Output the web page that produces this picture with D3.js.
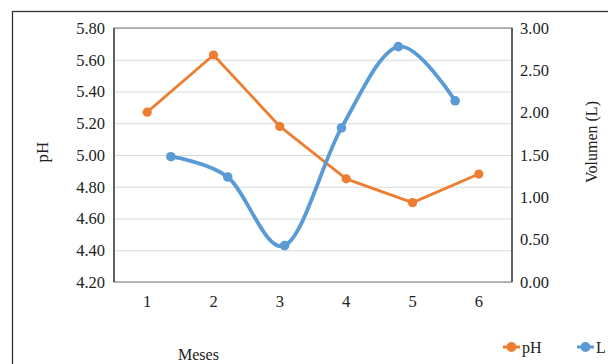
<!DOCTYPE html>
<html>
<head>
<meta charset="utf-8">
<script src="https://cdn.jsdelivr.net/npm/d3@7"></script>
<style>
  body { margin: 0; background: #fff; }
  text { font-family: "Liberation Serif", "Times New Roman", serif; fill: #222; }
</style>
</head>
<body>
<svg id="chart"></svg>
<script>
// data
const months = ['1', '2', '3', '4', '5', '6'];
const phValues = [5.27, 5.63, 5.18, 4.85, 4.70, 4.88];
const volIndex = [1, 2, 3, 4, 5, 6];
const volValues = [1.48, 1.24, 0.43, 1.82, 2.78, 2.14];
const phTicks = [4.2, 4.4, 4.6, 4.8, 5.0, 5.2, 5.4, 5.6, 5.8];
const volTicks = [0, 0.5, 1, 1.5, 2, 2.5, 3];

const W = 608, H = 364;
const margin = {top: 28, right: 96, bottom: 82, left: 114};
const width = W - margin.left - margin.right;
const height = H - margin.top - margin.bottom;
const orange = '#ed7d31', blue = '#5b9bd5';

const svg = d3.select('#chart').attr('width', W).attr('height', H);

// outer frame (cut off right/bottom)
svg.append('rect')
    .attr('x', 12.5).attr('y', 11.5)
    .attr('width', W).attr('height', H)
    .attr('fill', 'none').attr('stroke', '#333').attr('stroke-width', 1.3);

const chart = svg.append('g').attr('transform', `translate(${margin.left},${margin.top})`);

const xScale = d3.scaleBand().domain(months).range([0, width]);
// secondary category axis (hidden) used by the L series
const x2Scale = d3.scaleLinear().domain([0, 7]).range([0, width]);
const yLeft = d3.scaleLinear().domain([4.2, 5.8]).range([height, 0]);
const yRight = d3.scaleLinear().domain([0, 3]).range([height, 0]);

// gridlines
chart.append('g')
    .call(d3.axisLeft(yLeft).tickValues(phTicks).tickSize(-width).tickFormat(''))
    .call(g => g.select('.domain').remove())
    .call(g => g.selectAll('line').attr('stroke', '#d9d9d9').attr('stroke-width', 1.2));

// plot frame
chart.append('rect')
    .attr('width', width).attr('height', height)
    .attr('fill', 'none').attr('stroke', '#8c8c8c').attr('stroke-width', 1.2);
chart.append('line').attr('x1', 0).attr('x2', 0).attr('y1', 0).attr('y2', height)
    .attr('stroke', '#444').attr('stroke-width', 1.5);
chart.append('line').attr('x1', width).attr('x2', width).attr('y1', 0).attr('y2', height)
    .attr('stroke', '#444').attr('stroke-width', 1.5);

// axes labels
const yAxisL = chart.append('g')
    .call(d3.axisLeft(yLeft).tickValues(phTicks).tickSize(0).tickPadding(9).tickFormat(d3.format('.2f')));
const yAxisR = chart.append('g')
    .attr('transform', `translate(${width},0)`)
    .call(d3.axisRight(yRight).tickValues(volTicks).tickSize(0).tickPadding(8).tickFormat(d3.format('.2f')));
const xAxis = chart.append('g')
    .attr('transform', `translate(0,${height})`)
    .call(d3.axisBottom(xScale).tickSize(0).tickPadding(13));
[yAxisL, yAxisR, xAxis].forEach(a => {
  a.select('.domain').remove();
  a.attr('font-family', null).attr('font-size', null);
  a.selectAll('text')
      .style('font-family', '"Liberation Serif", "Times New Roman", serif')
      .style('font-size', '16.5px')
      .attr('fill', '#222');
});

// titles
svg.append('text')
    .attr('transform', 'translate(48,152) rotate(-90)')
    .attr('text-anchor', 'middle').attr('font-size', 17).text('pH');
svg.append('text')
    .attr('transform', 'translate(597,142) rotate(-90)')
    .attr('text-anchor', 'middle').attr('font-size', 16).text('Volumen (L)');
svg.append('text')
    .attr('x', 178).attr('y', 360).attr('font-size', 16).text('Meses');

// pH series
const phLine = d3.line()
    .x((d, i) => xScale(months[i]) + xScale.bandwidth() / 2)
    .y(d => yLeft(d));
chart.append('path')
    .datum(phValues)
    .attr('d', phLine)
    .attr('fill', 'none').attr('stroke', orange).attr('stroke-width', 2.8)
    .attr('stroke-linejoin', 'round');
chart.selectAll('.ph-pt')
    .data(phValues)
    .join('circle')
    .attr('class', 'ph-pt')
    .attr('cx', (d, i) => xScale(months[i]) + xScale.bandwidth() / 2)
    .attr('cy', d => yLeft(d))
    .attr('r', 4.6)
    .attr('fill', orange);

// L series (smoothed)
const volLine = d3.line()
    .x((d, i) => x2Scale(volIndex[i]))
    .y(d => yRight(d))
    .curve(d3.curveCardinal.tension(0));
chart.append('path')
    .datum(volValues)
    .attr('d', volLine)
    .attr('fill', 'none').attr('stroke', blue).attr('stroke-width', 3.8)
    .attr('stroke-linecap', 'round');
chart.selectAll('.vol-pt')
    .data(volValues)
    .join('circle')
    .attr('class', 'vol-pt')
    .attr('cx', (d, i) => x2Scale(volIndex[i]))
    .attr('cy', d => yRight(d))
    .attr('r', 4.8)
    .attr('fill', blue);

// legend
const legendItems = [{name: 'pH', color: orange, x: 503}, {name: 'L', color: blue, x: 577}];
const legend = svg.selectAll('.legend')
    .data(legendItems)
    .join('g')
    .attr('class', 'legend')
    .attr('transform', d => `translate(${d.x},347)`);
legend.append('line')
    .attr('x1', 0).attr('x2', 17)
    .attr('stroke', d => d.color).attr('stroke-width', 3);
legend.append('circle')
    .attr('cx', 8.5).attr('r', 5)
    .attr('fill', d => d.color);
legend.append('text')
    .attr('x', 19).attr('y', 6)
    .attr('font-size', 16)
    .text(d => d.name);
</script>
</body>
</html>
